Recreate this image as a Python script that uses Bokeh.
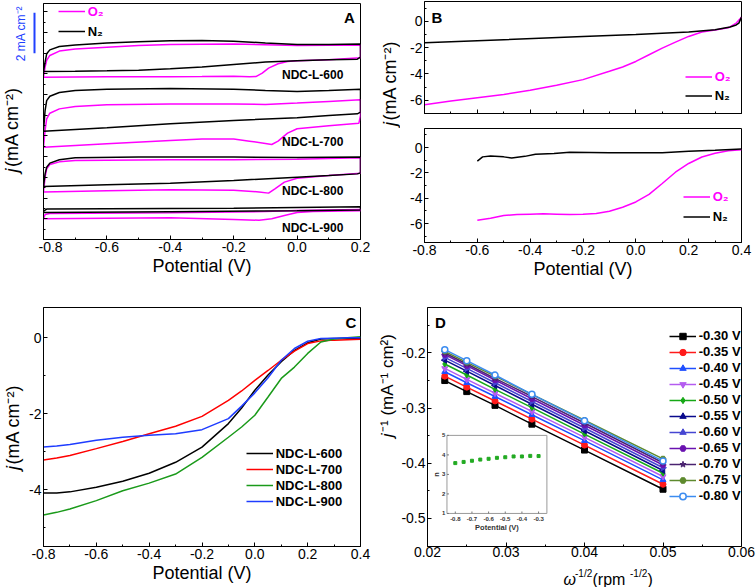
from math import pi
from bokeh.plotting import figure
from bokeh.models import (Range1d, FixedTicker, Label, Legend, LegendItem,
                          CustomJSTickFormatter)
from bokeh.layouts import row, column
from bokeh.embed import file_html
from bokeh.resources import INLINE
from bokeh.core.properties import value

FONT = "Liberation Sans"
MAG = "#FF00FF"

# ---------------- Panel A : stacked CVs (offset current, mA) ----------------
A_SAMPLES = ["NDC-L-600", "NDC-L-700", "NDC-L-800", "NDC-L-900"]
A_LABEL_Y = [7.97, 4.73, 2.32, 0.54]
A_SCALE_BAR = [9.0, 10.95]   # 2 mA cm-2 scale bar (offset current units)

A_N2_600_V = [-0.8, -0.795, -0.79, -0.78, -0.75, -0.7, -0.6, -0.5, -0.4, -0.3, -0.2, -0.1, 0.0, 0.1, 0.2,
              0.2, 0.19, 0.1, 0.0, -0.1, -0.2, -0.3, -0.4, -0.5, -0.6, -0.7, -0.8]
A_N2_600_J = [8.12, 8.57, 8.97, 9.16, 9.32, 9.40, 9.49, 9.55, 9.60, 9.61, 9.58, 9.49, 9.42, 9.42, 9.44,
              8.81, 8.71, 8.68, 8.63, 8.57, 8.45, 8.33, 8.25, 8.18, 8.15, 8.13, 8.12]
A_O2_600_V = [-0.8, -0.795, -0.79, -0.78, -0.75, -0.7, -0.6, -0.5, -0.4, -0.2, 0.0, 0.2,
              0.2, 0.1, 0.0, -0.03, -0.06, -0.09, -0.11, -0.13, -0.15, -0.2, -0.3, -0.4, -0.6, -0.8]
A_O2_600_J = [7.84, 8.33, 8.65, 8.89, 9.10, 9.20, 9.29, 9.37, 9.42, 9.44, 9.37, 9.39,
              8.78, 8.68, 8.63, 8.60, 8.49, 8.28, 8.04, 7.87, 7.86, 7.89, 7.87, 7.86, 7.86, 7.84]

A_N2_700_V = [-0.8, -0.795, -0.79, -0.78, -0.75, -0.7, -0.6, -0.4, -0.2, -0.1, 0.0, 0.1, 0.2,
              0.2, 0.19, 0.1, 0.0, -0.2, -0.4, -0.6, -0.8]
A_N2_700_J = [5.23, 6.23, 6.71, 6.92, 7.10, 7.20, 7.26, 7.29, 7.26, 7.20, 7.15, 7.20, 7.26,
              6.15, 6.07, 5.99, 5.88, 5.75, 5.59, 5.40, 5.23]
A_O2_700_V = [-0.8, -0.795, -0.79, -0.78, -0.75, -0.7, -0.6, -0.4, -0.2, -0.1, 0.0, 0.1, 0.2,
              0.2, 0.195, 0.1, 0.0, -0.03, -0.06, -0.08, -0.1, -0.15, -0.2, -0.3, -0.4, -0.6, -0.8]
A_O2_700_J = [4.46, 5.27, 5.83, 6.10, 6.31, 6.43, 6.51, 6.54, 6.55, 6.52, 6.59, 6.67, 6.75,
              5.99, 5.62, 5.49, 5.35, 5.14, 4.75, 4.59, 4.64, 4.75, 4.85, 4.85, 4.78, 4.62, 4.46]

A_N2_800_V = [-0.8, -0.795, -0.79, -0.78, -0.75, -0.7, -0.5, -0.2, 0.0, 0.2,
              0.2, 0.19, 0.1, 0.0, -0.2, -0.4, -0.6, -0.8]
A_N2_800_J = [2.56, 3.17, 3.49, 3.69, 3.85, 3.95, 3.98, 3.98, 3.96, 3.98,
              3.22, 3.17, 3.09, 3.01, 2.85, 2.72, 2.64, 2.56]
A_O2_800_V = [-0.8, -0.795, -0.79, -0.78, -0.75, -0.7, -0.4, -0.2, 0.0, 0.2,
              0.2, 0.1, 0.0, -0.04, -0.07, -0.09, -0.12, -0.2, -0.4, -0.6, -0.8]
A_O2_800_J = [2.29, 3.01, 3.41, 3.62, 3.75, 3.82, 3.85, 3.85, 3.88, 3.95,
              3.20, 3.09, 2.96, 2.77, 2.45, 2.24, 2.30, 2.38, 2.40, 2.35, 2.29]

A_N2_900_V = [-0.8, -0.79, -0.6, -0.2, 0.2, 0.2, 0.0, -0.4, -0.8, -0.8]
A_N2_900_J = [1.37, 1.47, 1.48, 1.51, 1.58, 1.42, 1.39, 1.34, 1.30, 1.37]
A_O2_900_V = [-0.8, -0.795, -0.78, -0.4, -0.1, 0.0, 0.2, 0.2, 0.05, 0.0, -0.04, -0.08, -0.12,
              -0.2, -0.4, -0.6, -0.8]
A_O2_900_J = [1.00, 1.21, 1.26, 1.29, 1.35, 1.40, 1.45, 1.39, 1.35, 1.30, 1.16, 1.00, 0.93,
              0.97, 1.05, 1.03, 1.00]

# ---------------- Panel B : LSV in O2 / N2 ----------------
B1_O2_V = [-0.8, -0.7, -0.6, -0.5, -0.4, -0.3, -0.2, -0.1, -0.05, 0.0, 0.05, 0.1, 0.15, 0.2, 0.25, 0.3, 0.35, 0.38, 0.4]
B1_O2_J = [-6.33, -6.05, -5.80, -5.55, -5.24, -4.86, -4.43, -3.80, -3.47, -3.05, -2.54, -2.04, -1.58, -1.15, -0.82, -0.67, -0.50, -0.14, 0.31]
B1_N2_V = [-0.8, -0.5, -0.2, 0.0, 0.2, 0.3, 0.357, 0.38, 0.39, 0.4]
B1_N2_J = [-1.63, -1.40, -1.15, -1.00, -0.82, -0.65, -0.44, -0.28, -0.14, 0.31]

B2_O2_V = [-0.6, -0.55, -0.5, -0.45, -0.4, -0.35, -0.3, -0.25, -0.2, -0.15, -0.1, -0.05, 0.0, 0.05, 0.1, 0.15, 0.2, 0.25, 0.3, 0.35, 0.4]
B2_O2_J = [-5.74, -5.58, -5.37, -5.29, -5.26, -5.24, -5.26, -5.29, -5.26, -5.21, -5.03, -4.72, -4.30, -3.70, -2.84, -1.95, -1.26, -0.75, -0.45, -0.26, -0.18]
B2_N2_V = [-0.6, -0.58, -0.55, -0.5, -0.47, -0.42, -0.38, -0.31, -0.25, -0.1, 0.1, 0.2, 0.3, 0.4]
B2_N2_J = [-1.08, -0.74, -0.68, -0.74, -0.82, -0.70, -0.53, -0.47, -0.37, -0.42, -0.42, -0.29, -0.21, -0.11]

# ---------------- Panel C : LSV of four samples ----------------
C_V = [-0.8, -0.75, -0.7, -0.6, -0.5, -0.4, -0.3, -0.2, -0.1, -0.05, 0.0, 0.05, 0.1, 0.15, 0.2, 0.25, 0.3, 0.35, 0.4]
C_600 = [-4.09, -4.09, -4.06, -3.94, -3.78, -3.57, -3.28, -2.88, -2.26, -1.85, -1.38, -0.98, -0.63, -0.33, -0.13, -0.03, -0.02, -0.02, -0.02]
C_700 = [-3.22, -3.17, -3.10, -2.92, -2.73, -2.53, -2.33, -2.07, -1.65, -1.40, -1.12, -0.86, -0.59, -0.35, -0.15, -0.08, -0.06, -0.05, -0.04]
C_800 = [-4.67, -4.60, -4.51, -4.29, -4.03, -3.83, -3.59, -3.15, -2.62, -2.35, -2.04, -1.56, -1.07, -0.77, -0.41, -0.11, -0.03, 0.0, 0.03]
C_900 = [-2.88, -2.85, -2.81, -2.70, -2.62, -2.57, -2.53, -2.42, -2.13, -1.80, -1.45, -1.05, -0.59, -0.28, -0.09, -0.02, -0.01, 0.0, 0.0]
C_NAMES = ["NDC-L-600", "NDC-L-700", "NDC-L-800", "NDC-L-900"]
C_COLORS = ["#000000", "#FF0000", "#1A9A1A", "#1E3CFF"]

# ---------------- Panel D : Koutecky-Levich plots ----------------
D_X = [0.0222, 0.0250, 0.0286, 0.0333, 0.0400, 0.0500]
D_030 = [-0.250, -0.270, -0.295, -0.329, -0.376, -0.447]
D_035 = [-0.242, -0.262, -0.287, -0.320, -0.367, -0.438]
D_040 = [-0.234, -0.254, -0.279, -0.312, -0.359, -0.430]
D_045 = [-0.228, -0.248, -0.273, -0.306, -0.353, -0.424]
D_050 = [-0.220, -0.240, -0.266, -0.299, -0.347, -0.418]
D_055 = [-0.213, -0.233, -0.259, -0.293, -0.341, -0.413]
D_060 = [-0.208, -0.228, -0.254, -0.288, -0.336, -0.408]
D_065 = [-0.203, -0.223, -0.249, -0.283, -0.331, -0.403]
D_070 = [-0.200, -0.220, -0.246, -0.279, -0.327, -0.399]
D_075 = [-0.197, -0.217, -0.242, -0.275, -0.322, -0.392]
D_080 = [-0.194, -0.214, -0.240, -0.275, -0.323, -0.396]
D_LABELS = ["-0.30 V", "-0.35 V", "-0.40 V", "-0.45 V", "-0.50 V", "-0.55 V",
            "-0.60 V", "-0.65 V", "-0.70 V", "-0.75 V", "-0.80 V"]
D_COLORS = ["#000000", "#FF1A1A", "#1F4FFF", "#B45CF0", "#16A816", "#0A0A8C",
            "#4646D2", "#6A12B0", "#4A2370", "#5E8A2E", "#3C8CF0"]
D_MARKERS = ["square", "circle", "triangle", "inverted_triangle", "diamond", "triangle",
             "triangle", "hex", "star", "hex", "circle"]
D_ANGLES = [0, 0, 0, 0, 0, pi / 2, -pi / 2, 0, 0, 0, 0]

# inset: electron transfer number
IN_V = [-0.8, -0.75, -0.7, -0.65, -0.6, -0.55, -0.5, -0.45, -0.4, -0.35, -0.3]
IN_N = [3.58, 3.64, 3.70, 3.76, 3.80, 3.85, 3.88, 3.92, 3.92, 3.95, 3.94]
IN_XT = [-0.8, -0.7, -0.6, -0.5, -0.4, -0.3]
IN_XT_LBL = ["-0.8", "-0.7", "-0.6", "-0.5", "-0.4", "-0.3"]
IN_YT = [1, 2, 3, 4, 5]
IN_YT_LBL = ["1", "2", "3", "4", "5"]

POT_TICKS_A = [-0.8, -0.6, -0.4, -0.2, 0.0, 0.2]
POT_TICKS = [-0.8, -0.6, -0.4, -0.2, 0.0, 0.2, 0.4]


def make_fig(w, h, xr, yr, left, right, top, bottom):
    p = figure(width=w, height=h, x_range=Range1d(*xr), y_range=Range1d(*yr),
               output_backend="svg", toolbar_location=None,
               min_border_left=left, min_border_right=right,
               min_border_top=top, min_border_bottom=bottom)
    p.grid.visible = False
    p.outline_line_color = "black"
    p.outline_line_width = 1
    p.background_fill_color = "white"
    p.border_fill_color = "white"
    for ax in p.axis:
        ax.major_tick_in = 4
        ax.major_tick_out = 0
        ax.minor_tick_in = 2
        ax.minor_tick_out = 0
        ax.major_label_text_font = FONT
        ax.major_label_text_font_size = "14px"
        ax.major_label_text_color = "black"
        ax.major_label_standoff = 2
        ax.axis_label_text_font = FONT
        ax.axis_label_text_font_size = "18px"
        ax.axis_label_text_font_style = "normal"
        ax.axis_label_text_color = "black"
        ax.axis_label_standoff = 1
        ax.axis_line_color = "black"
        ax.major_tick_line_color = "black"
        ax.minor_tick_line_color = "black"
    return p


def make_strip(w, h, xr, yr, top=0, bottom=0):
    s = figure(width=w, height=h, x_range=Range1d(*xr), y_range=Range1d(*yr),
               x_axis_location=None, y_axis_location=None,
               min_border_left=0, min_border_right=0,
               min_border_top=top, min_border_bottom=bottom,
               output_backend="svg", toolbar_location=None)
    s.grid.visible = False
    s.outline_line_color = None
    s.background_fill_color = "white"
    s.border_fill_color = "white"
    return s


def fmt(code):
    return CustomJSTickFormatter(code=code)


def add_text(p, x, y, text, size="18px", style="normal", color="black", align="left",
             baseline="alphabetic", angle=0.0, units="screen"):
    p.add_layout(Label(x=x, y=y, x_units=units, y_units=units, text=text,
                       text_font=FONT, text_font_size=size, text_font_style=style,
                       text_color=color, text_align=align, text_baseline=baseline,
                       angle=angle))


def y_title(p, x, yc, rest, total_len, size="18px"):
    ya = yc - total_len / 2 + 5
    add_text(p, x, ya - 1.5, "j", size=size, style="italic", align="right",
             baseline="middle", angle=pi / 2)
    add_text(p, x, ya, rest, size=size, align="left", baseline="middle", angle=pi / 2)


def add_legend(p, items, x, y, row_h, color="black", size="13px", glyph_w=27):
    lg = Legend(items=items, location=(x, y), orientation="vertical",
                glyph_width=glyph_w, glyph_height=row_h, label_height=row_h,
                spacing=0, padding=0, margin=0, label_standoff=3,
                border_line_alpha=0, background_fill_alpha=0,
                label_text_font=FONT, label_text_font_size=size,
                label_text_font_style="bold", label_text_color=color)
    p.add_layout(lg)


# ======================= Panel A =======================
A_YR = (0, 11.4)
stripA = make_strip(38, 290, (0, 38), A_YR, top=3, bottom=51)
y_title(stripA, 11, 112.5, " (mA cm\u207b\u00b2)", 90)
stripA.segment(x0=[34], y0=[A_SCALE_BAR[0]], x1=[34], y1=[A_SCALE_BAR[1]],
               line_color="#2040FF", line_width=2)
add_text(stripA, 20, 206, "2 mA cm\u207b\u00b2", size="12px", color="#2040FF",
         align="center", baseline="middle", angle=pi / 2)

pA = make_fig(337, 290, (-0.8, 0.2), A_YR, 5, 15, 3, 51)
pA.xaxis.ticker = FixedTicker(ticks=POT_TICKS_A, minor_ticks=[-0.7, -0.5, -0.3, -0.1, 0.1])
pA.xaxis.formatter = fmt("return tick.toFixed(1)")
pA.xaxis.axis_label = "Potential (V)"
pA.yaxis.ticker = FixedTicker(ticks=list(range(0, 12)),
                              minor_ticks=[i + 0.5 for i in range(0, 11)])
pA.yaxis.formatter = fmt("return ''")
pA.yaxis.major_label_standoff = 0

a_curves = [(A_O2_600_V, A_O2_600_J, A_N2_600_V, A_N2_600_J),
            (A_O2_700_V, A_O2_700_J, A_N2_700_V, A_N2_700_J),
            (A_O2_800_V, A_O2_800_J, A_N2_800_V, A_N2_800_J),
            (A_O2_900_V, A_O2_900_J, A_N2_900_V, A_N2_900_J)]
rA_o2 = rA_n2 = None
for ov, oj, nv, nj in a_curves:
    r1 = pA.line(ov, oj, line_color=MAG, line_width=1.5)
    r2 = pA.line(nv, nj, line_color="black", line_width=1.5)
    rA_o2 = rA_o2 or r1
    rA_n2 = rA_n2 or r2
for name, yl in zip(A_SAMPLES, A_LABEL_Y):
    add_text(pA, 0.146, yl, name, size="12px", style="bold", align="right",
             baseline="middle", units="data")
add_legend(pA, [LegendItem(label="O\u2082", renderers=[rA_o2])], 14.7, 218, 20, color=MAG)
add_legend(pA, [LegendItem(label="N\u2082", renderers=[rA_n2])], 14.7, 198, 20)
add_text(pA, 306, 222, "A", size="15px", style="bold", align="center", baseline="middle")

# ======================= Panel B =======================
stripB = make_strip(25, 290, (0, 25), (0, 290))
y_title(stripB, 14, 159, " (mA cm\u207b\u00b2)", 90)

pB1 = make_fig(356, 120, (-0.8, 0.4), (-7.0, 1.5), 24, 15, 1, 7)
pB2 = make_fig(356, 170, (-0.8, 0.4), (-7.5, 1.5), 24, 15, 8, 48)
for pb in (pB1, pB2):
    pb.xaxis.ticker = FixedTicker(ticks=POT_TICKS, minor_ticks=[-0.7, -0.5, -0.3, -0.1, 0.1, 0.3])
    pb.yaxis.ticker = FixedTicker(ticks=[-6, -4, -2, 0], minor_ticks=[-7, -5, -3, -1, 1])
    pb.yaxis.formatter = fmt("return tick.toFixed(0)")
pB1.xaxis.formatter = fmt("return ''")
pB1.xaxis.major_label_standoff = 0
pB2.xaxis.formatter = fmt("return tick.toFixed(1)")
pB2.xaxis.axis_label = "Potential (V)"

rb1o = pB1.line(B1_O2_V, B1_O2_J, line_color=MAG, line_width=1.5)
rb1n = pB1.line(B1_N2_V, B1_N2_J, line_color="black", line_width=1.5)
rb2o = pB2.line(B2_O2_V, B2_O2_J, line_color=MAG, line_width=1.5)
rb2n = pB2.line(B2_N2_V, B2_N2_J, line_color="black", line_width=1.5)
add_legend(pB1, [LegendItem(label="O\u2082", renderers=[rb1o])], 260.7, 27.5, 19, color=MAG)
add_legend(pB1, [LegendItem(label="N\u2082", renderers=[rb1n])], 260.7, 7.8, 19)
add_legend(pB2, [LegendItem(label="O\u2082", renderers=[rb2o])], 258.7, 35.8, 19, color=MAG)
add_legend(pB2, [LegendItem(label="N\u2082", renderers=[rb2n])], 258.7, 16.5, 19)
add_text(pB1, 12.4, 95.7, "B", size="15px", style="bold", align="center", baseline="middle")

# ======================= Panel C =======================
C_YR = (-5.5, 0.8)
stripC = make_strip(24, 297, (0, 24), C_YR, top=17, bottom=41)
y_title(stripC, 12, 122, " (mA cm\u207b\u00b2)", 90)

pC = make_fig(351, 297, (-0.8, 0.4), C_YR, 19, 15, 17, 41)
pC.xaxis.ticker = FixedTicker(ticks=POT_TICKS, minor_ticks=[-0.7, -0.5, -0.3, -0.1, 0.1, 0.3])
pC.xaxis.formatter = fmt("return tick.toFixed(1)")
pC.xaxis.axis_label = "Potential (V)"
pC.yaxis.ticker = FixedTicker(ticks=[-4, -2, 0], minor_ticks=[-5, -3, -1])
pC.yaxis.formatter = fmt("return tick.toFixed(0)")
c_items = []
for name, ys, col in zip(C_NAMES, [C_600, C_700, C_800, C_900], C_COLORS):
    r = pC.line(C_V, ys, line_color=col, line_width=1.5)
    c_items.append(LegendItem(label=name, renderers=[r]))
add_legend(pC, c_items, 202.7, 37, 16)
add_text(pC, 307.4, 223.7, "C", size="15px", style="bold", align="center", baseline="middle")

# ======================= Panel D =======================
stripD = make_strip(23, 297, (0, 23), (0, 297))
y_title(stripD, 12, 164.5, "\u207b\u00b9 (mA\u207b\u00b9 cm\u00b2)", 110, size="17px")

pD = make_fig(358, 272, (0.02, 0.06), (-0.5508, -0.1176), 26, 15, 17, 16)
pD.xaxis.ticker = FixedTicker(ticks=[0.02, 0.03, 0.04, 0.05, 0.06],
                              minor_ticks=[0.025, 0.035, 0.045, 0.055])
pD.xaxis.formatter = fmt("return tick.toFixed(2)")
pD.xaxis.major_label_standoff = 0
pD.yaxis.ticker = FixedTicker(ticks=[-0.5, -0.4, -0.3, -0.2],
                              minor_ticks=[-0.55, -0.45, -0.35, -0.25, -0.15])
pD.yaxis.formatter = fmt("return tick.toFixed(1)")

d_series = [D_030, D_035, D_040, D_045, D_050, D_055, D_060, D_065, D_070, D_075, D_080]
d_items = []
for ys, lbl, col, mk, ang in zip(d_series, D_LABELS, D_COLORS, D_MARKERS, D_ANGLES):
    rl = pD.line(D_X, ys, line_color=col, line_width=1.5)
    fill = "white" if lbl == "-0.80 V" else col
    rs = pD.scatter(D_X, ys, marker=mk, size=6, angle=ang, fill_color=fill,
                    line_color=col, line_width=1.5 if lbl == "-0.80 V" else 1)
    d_items.append(LegendItem(label=lbl, renderers=[rl, rs]))
add_legend(pD, d_items, 241.7, 42.5, 16)
add_text(pD, 13, 223.7, "D", size="15px", style="bold", align="center", baseline="middle")

# x title strip below D: omega^-1/2 (rpm^-1/2)
stripDx = make_strip(358, 25, (0, 358), (0, 25))
add_text(stripDx, 136, 8, "\u03c9", size="16px", style="italic")
add_text(stripDx, 147.5, 14.5, "-1/2", size="10px")
add_text(stripDx, 165, 8, " (rpm", size="16px")
add_text(stripDx, 202.5, 14.5, "-1/2", size="10px")
add_text(stripDx, 220, 8, ")", size="16px")

# inset
sub = pD.subplot(x_source=Range1d(-0.85, -0.25), y_source=Range1d(1, 5),
                 x_target=Range1d(0.02248, 0.03521), y_target=Range1d(-0.4909, -0.3494))
sub.quad(left=[-0.85], right=[-0.25], bottom=[1], top=[5],
         fill_color="white", line_color="#9A9A9A", line_width=1)
sub.segment(x0=IN_XT, y0=[1] * len(IN_XT), x1=IN_XT, y1=[1.1] * len(IN_XT),
            line_color="#777777", line_width=1)
sub.segment(x0=[-0.85] * len(IN_YT), y0=IN_YT, x1=[-0.838] * len(IN_YT), y1=IN_YT,
            line_color="#777777", line_width=1)
sub.text(x=IN_XT, y=[0.72] * len(IN_XT), text=IN_XT_LBL, text_font=value(FONT),
         text_font_size="6px", text_font_style="bold", text_color="#333333",
         text_align="center", text_baseline="middle")
sub.text(x=[-0.86] * len(IN_YT), y=IN_YT, text=IN_YT_LBL, text_font=value(FONT),
         text_font_size="6px", text_font_style="bold", text_color="#333333",
         text_align="right", text_baseline="middle")
sub.text(x=[-0.55], y=[0.3], text=["Potential (V)"], text_font=value(FONT),
         text_font_size="7.5px", text_font_style="bold", text_color="#333333",
         text_align="center", text_baseline="middle")
sub.text(x=[-0.915], y=[3.0], text=["n"], text_font=value(FONT), angle=pi / 2,
         text_font_size="7.5px", text_font_style="bold", text_color="#333333",
         text_align="center", text_baseline="middle")
sub.scatter(IN_V, IN_N, marker="square", size=3, fill_color="#22AA22", line_color="#22AA22")

layout = column(row(stripA, pA, stripB, column(pB1, pB2)),
                row(stripC, pC, stripD, column(pD, stripDx)))
open("out.html", "w").write(file_html(layout, INLINE))
